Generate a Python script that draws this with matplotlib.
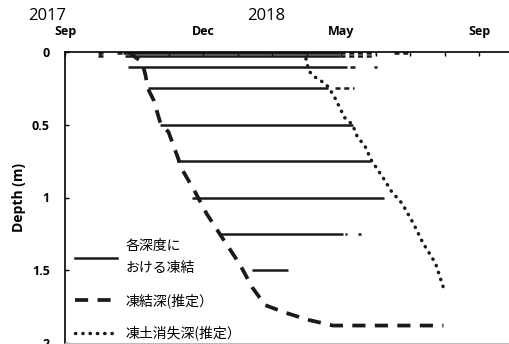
#!/usr/bin/env python
# frost depth chart, 2017-2018 season
import numpy as np
import matplotlib
matplotlib.use("Agg")
import matplotlib.pyplot as plt
from matplotlib.lines import Line2D

plt.rcParams['font.family'] = ['Open Sans', 'Noto Sans CJK JP', 'DejaVu Sans']

# days counted from 1 Sep 2017
month_ticks = np.arange(0, 390, 30)
month_labels = {0: "Sep", 120: "Dec", 240: "May", 360: "Sep"}

# frozen periods at each sensor depth (m)
freeze_depth = [0.01, 0.03, 0.1, 0.25, 0.5, 0.75, 1.0, 1.25, 1.5]
freeze_start = [50, 52, 55, 72, 83, 97, 110, 135, 163]
freeze_end = [239, 239, 245, 229, 250, 266, 277, 242, 194]

# short intermittent freezing bits (depth, start, end)
extra_depth = [0.01, 0.03, 0.01, 0.01, 0.03, 0.01, 0.1, 0.1, 0.25, 1.25, 1.25]
extra_start = [29, 29, 45, 239, 239, 286, 248, 269, 235, 243, 255]
extra_end = [36, 36, 50, 270, 268, 300, 252, 271, 251, 245, 257]

# estimated frost depth
fd_day = [55, 67, 70, 72, 77, 80, 83, 90, 102, 113, 123, 137, 152, 163, 174, 191, 211, 233, 280, 329]
fd_depth = [0.0, 0.07, 0.16, 0.25, 0.33, 0.41, 0.49, 0.55, 0.81, 0.96, 1.11, 1.28, 1.46, 1.62, 1.74, 1.79, 1.84, 1.88, 1.88, 1.88]

# estimated thaw depth
th_day = [207, 209, 212, 216, 220, 224, 229, 235, 243, 250, 254, 261, 266, 277, 284, 293, 303, 311, 322, 329]
th_depth = [0.0, 0.03, 0.13, 0.165, 0.186, 0.206, 0.24, 0.32, 0.45, 0.5, 0.58, 0.65, 0.74, 0.87, 0.96, 1.04, 1.18, 1.31, 1.45, 1.62]

DASH = (0, (3.5, 2.5))
DOT = (0, (0.1, 2.0))

fig = plt.figure(figsize=(5.09, 3.44), dpi=100)
ax = fig.add_axes([65 / 509, 1 / 344, 444 / 509, 291 / 344])

for d, s, e in zip(freeze_depth, freeze_start, freeze_end):
    ax.plot([s, e], [d, d], color="#1a1a1a", lw=1.8, solid_capstyle="butt")
for d, s, e in zip(extra_depth, extra_start, extra_end):
    ax.plot([s, e], [d, d], color="#1a1a1a", lw=1.8, ls=(0, (2, 1.5)))

ax.plot(fd_day, fd_depth, color="#1a1a1a", lw=2.7, ls=DASH)
ax.plot(th_day, th_depth, color="#1a1a1a", lw=2.5, ls=DOT, dash_capstyle="round")

ax.set_xlim(0, 386)
ax.set_ylim(2, 0)

ax.xaxis.tick_top()
ax.set_xticks(month_ticks)
ax.set_xticklabels([month_labels.get(int(t), "") for t in month_ticks],
                   fontsize=9, fontweight="bold")
ax.set_yticks([0, 0.5, 1, 1.5, 2])
ax.set_yticklabels(["0", "0.5", "1", "1.5", "2"], fontsize=9, fontweight="bold")
ax.tick_params(axis="x", direction="in", length=3, width=1, pad=10)
ax.tick_params(axis="y", direction="in", length=3, width=1, pad=11)
ax.spines["right"].set_visible(False)
ax.spines["bottom"].set_color("#bbbbbb")
for s in ("top", "left"):
    ax.spines[s].set_linewidth(1.2)
ax.set_ylabel("Depth (m)", fontsize=10, fontweight="bold", labelpad=4)

fig.text(47 / 509, 1 - 16 / 344, "2017", fontsize=12, ha="center", va="center")
fig.text(266 / 509, 1 - 16 / 344, "2018", fontsize=12, ha="center", va="center")

handles = [
    Line2D([], [], color="#1a1a1a", lw=1.8),
    Line2D([], [], color="#1a1a1a", lw=2.7, ls=DASH),
    Line2D([], [], color="#1a1a1a", lw=2.5, ls=DOT, dash_capstyle="round"),
]
labels = ["各深度に\nおける凍結", "凍結深(推定）", "凍土消失深(推定）"]
leg = ax.legend(handles, labels, loc="lower left", bbox_to_anchor=(-0.005, -0.035),
                frameon=False, handlelength=3.0, handletextpad=0.6,
                labelspacing=1.3,
                prop={"family": ["Noto Sans CJK JP", "DejaVu Sans"], "size": 10})
for t in leg.get_texts():
    t.set_linespacing(1.7)

fig.savefig("out.png", dpi=100)
